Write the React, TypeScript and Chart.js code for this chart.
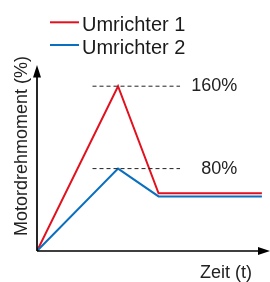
import React, { useEffect, useRef } from "react";
import { Chart, registerables } from "chart.js";

Chart.register(...registerables);

const seriesNames = ["Umrichter 1", "Umrichter 2"];
const timeValues = [0, 2, 3, 5.55];
const umrichter1 = [0, 160, 56, 56];
const umrichter2 = [0, 80, 53, 53];
const referenceLevels = [160, 80];
const referenceLabels = ["160%", "80%"];
const refStart = 1.37;
const refEnd = 3.53;
const refLabelX = 4.94;
const xTitle = "Zeit (t)";
const yTitle = "Motordrehmoment (%)";

const RED = "#e3101e";
const BLUE = "#0a6fbf";
const FONT = "'Liberation Sans', Arial, sans-serif";

const overlay = {
  id: "overlay",
  afterDraw(chart: any) {
    const ctx = chart.ctx;
    const xs = chart.scales.x;
    const ys = chart.scales.y;
    const ox = xs.getPixelForValue(0);
    const oy = ys.getPixelForValue(0);
    const right = chart.width;
    const top = chart.chartArea.top;
    ctx.save();
    // axes
    ctx.strokeStyle = "#000";
    ctx.fillStyle = "#000";
    ctx.lineWidth = 1.7;
    ctx.beginPath();
    ctx.moveTo(ox, oy);
    ctx.lineTo(ox, top + 10);
    ctx.moveTo(ox, oy);
    ctx.lineTo(right - 10, oy);
    ctx.stroke();
    ctx.beginPath();
    ctx.moveTo(ox, top - 0.5);
    ctx.lineTo(ox - 4, top + 12);
    ctx.lineTo(ox + 4, top + 12);
    ctx.closePath();
    ctx.fill();
    ctx.beginPath();
    ctx.moveTo(right, oy);
    ctx.lineTo(right - 12, oy - 4);
    ctx.lineTo(right - 12, oy + 4);
    ctx.closePath();
    ctx.fill();
    // reference labels
    ctx.fillStyle = "#222";
    ctx.font = `18px ${FONT}`;
    ctx.textAlign = "right";
    ctx.textBaseline = "middle";
    referenceLevels.forEach((v, i) => {
      ctx.fillText(referenceLabels[i], xs.getPixelForValue(refLabelX), ys.getPixelForValue(v));
    });
    // x title
    ctx.textAlign = "right";
    ctx.textBaseline = "alphabetic";
    ctx.fillText(xTitle, 252, 278);
    // y title
    ctx.save();
    ctx.translate(27, 146);
    ctx.rotate(-Math.PI / 2);
    ctx.textAlign = "center";
    ctx.fillText(yTitle, 0, 0);
    ctx.restore();
    // legend
    const colors = [RED, BLUE];
    ctx.font = `20px ${FONT}`;
    ctx.textAlign = "left";
    seriesNames.forEach((name, i) => {
      const y = 22.3 + i * 22.7;
      ctx.strokeStyle = colors[i];
      ctx.lineWidth = 2;
      ctx.beginPath();
      ctx.moveTo(50, y);
      ctx.lineTo(79, y);
      ctx.stroke();
      ctx.fillStyle = "#1a1a1a";
      ctx.fillText(name, 82, y + 8.7);
    });
    ctx.restore();
  },
};

export default function App() {
  const ref = useRef<HTMLCanvasElement>(null);
  useEffect(() => {
    const pts = (ys: number[]) => timeValues.map((t, i) => ({ x: t, y: ys[i] }));
    const refSets = referenceLevels.map((v) => ({
      label: "ref" + v,
      data: [
        { x: refStart, y: v },
        { x: refEnd, y: v },
      ],
      borderColor: "#222",
      borderWidth: 1,
      borderDash: [4, 3],
      pointRadius: 0,
      fill: false,
    }));
    const chart = new Chart(ref.current!, {
      type: "line",
      data: {
        datasets: [
          ...refSets,
          {
            label: seriesNames[1],
            data: pts(umrichter2),
            borderColor: BLUE,
            borderWidth: 2,
            pointRadius: 0,
            tension: 0,
          },
          {
            label: seriesNames[0],
            data: pts(umrichter1),
            borderColor: RED,
            borderWidth: 2,
            pointRadius: 0,
            tension: 0,
          },
        ],
      },
      options: {
        animation: false,
        responsive: false,
        maintainAspectRatio: false,
        layout: { padding: { left: 37, right: 0, top: 65.6, bottom: 31 } },
        plugins: { legend: { display: false }, tooltip: { enabled: false } },
        scales: {
          x: { type: "linear", min: 0, max: 5.75, display: false },
          y: { type: "linear", min: 0, max: 180, display: false },
        },
      },
      plugins: [overlay],
    });
    return () => chart.destroy();
  }, []);
  return (
    <div style={{ position: "fixed", left: 0, top: 0, width: 270, height: 282, background: "#fff" }}>
      <canvas ref={ref} width={270} height={282} style={{ width: 270, height: 282 }} />
    </div>
  );
}
